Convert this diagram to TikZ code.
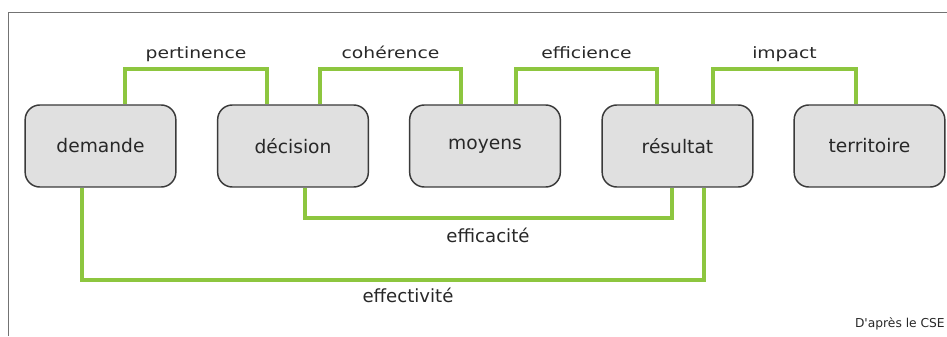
\documentclass[tikz,border=0pt]{standalone}
\usepackage{fontspec}
\setmainfont{DejaVu Sans}
\newfontfamily\etiqfont[FakeStretch=1.2]{DejaVu Sans}
\definecolor{vert}{RGB}{141,198,63}
\definecolor{gristxt}{RGB}{40,40,40}
\definecolor{grisfond}{RGB}{224,224,224}
\definecolor{grisbord}{RGB}{58,58,58}
\definecolor{griscadre}{RGB}{115,115,115}
\begin{document}
\begin{tikzpicture}[x=0.75pt,y=0.75pt,
    etape/.style={draw=grisbord,fill=grisfond,line width=1.1pt,rounded
        corners=11pt,minimum width=113pt,minimum height=61.5pt,inner
        sep=0pt,text=gristxt,font=\fontsize{14}{17}\selectfont},
    lien/.style={draw=vert,line width=3pt},
    haut/.style={anchor=base,inner sep=0pt,text=gristxt,
        font=\etiqfont\fontsize{11.7}{14}\selectfont},
    bas/.style={anchor=base,inner sep=0pt,text=gristxt,
        font=\fontsize{13.6}{16}\selectfont}]

    \useasboundingbox (0,0) rectangle (947,336);
    \draw[griscadre,line width=0.75pt] (8,0) -- (8,323) -- (947,323);

    \node[etape] (demande) at (100.5,190) {demande};
    \node[etape] (decision) at (293,190) {décision};
    \node[etape] (moyens) at (485,190) {moyens};
    \node[etape] (resultat) at (677.5,190) {résultat};
    \node[etape] (territoire) at (869.5,190) {territoire};

    \draw[lien] (demande.north -| 125,0) -- (125,267) -|
    (decision.north -| 267,0);
    \draw[lien] (decision.north -| 320,0) -- (320,267) -|
    (moyens.north -| 461,0);
    \draw[lien] (moyens.north -| 516,0) -- (516,267) -|
    (resultat.north -| 657,0);
    \draw[lien] (resultat.north -| 713,0) -- (713,267) -|
    (territoire.north -| 856,0);
    \draw[lien] (decision.south -| 305,0) -- (305,118) -|
    (resultat.south -| 672,0);
    \draw[lien] (demande.south -| 82,0) -- (82,56) -|
    (resultat.south -| 704,0);

    \node[haut] (pertinence) at (196,277) {pertinence};
    \node[haut] (coherence) at (390.5,277) {cohérence};
    \node[haut] (efficience) at (586.5,277) {efficience};
    \node[haut] (impact) at (784.5,277) {impact};
    \node[bas] (efficacite) at (488,93) {efficacité};
    \node[bas] (effectivite) at (408,33) {effectivité};
    \node[anchor=base east,inner sep=0pt,text=gristxt,
        font=\fontsize{9.2}{11}\selectfont] (source) at (945,8)
    {D\textquotesingle après le CSE};
\end{tikzpicture}
\end{document}
